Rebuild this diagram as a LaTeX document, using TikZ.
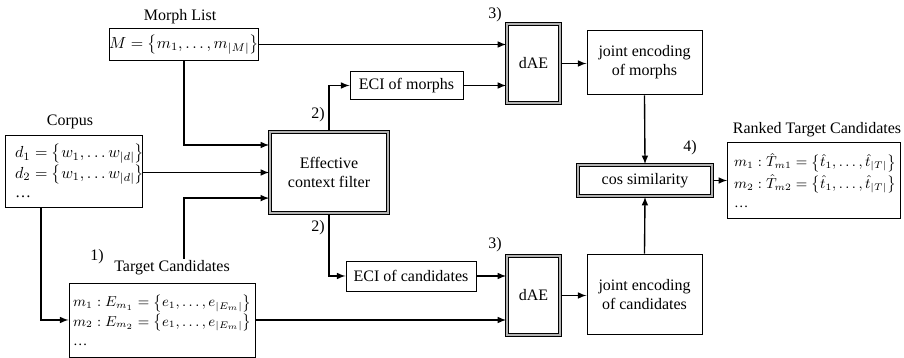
\documentclass[tikz,border=0pt]{standalone}
\usepackage{amsmath,amssymb}
\usepackage{fontspec}
\setmainfont{Liberation Serif}
\usetikzlibrary{arrows,positioning,shapes}

\begin{document}
\begin{tikzpicture}[x=0.625pt,y=-0.625pt,>=latex]
    \tikzstyle{box} = [draw, line width=0.6pt, inner sep=0pt]
    \tikzstyle{dbox} = [draw, line width=1pt, double=gray!60,
    double distance=1pt, inner sep=0pt]
    \tikzstyle{txt} = [inner sep=1pt]
    \tikzstyle{flow} = [->, line width=0.85pt]

    \useasboundingbox (0,0) rectangle (904,358);

    \draw
    (184,44.5) node [box, minimum width=91.25pt, minimum height=19.4pt] (morph)
        {$M=\left\{m_1,\ldots,m_{|M|}\right\}$}
    (73.5,171) node [box, minimum width=85.6pt, minimum height=45pt,
        text width=73pt, align=left, inner xsep=6pt] (corpus)
        {\mbox{$d_1=\left\{w_1,\ldots w_{|d|}\right\}$}\\ \mbox{$d_2=\left\{w_1,\ldots w_{|d|}\right\}$}\\ \ldots}
    (162,320) node [box, minimum width=116.25pt, minimum height=46.25pt,
        text width=111pt, align=left, inner xsep=2.5pt, font=\small] (target)
        {\mbox{$m_1:E_{m_1}=\left\{e_1,\ldots,e_{|E_m|}\right\}$}\\[1pt] \mbox{$m_2:E_{m_2}=\left\{e_1,\ldots,e_{|E_m|}\right\}$}\\[1pt] \ldots}
    (329,172.5) node [dbox, minimum width=73.75pt, minimum height=50.6pt,
        align=center] (ecf) {Effective\\ context filter}
    (406.5,85.5) node [box, minimum width=70.6pt, minimum height=18.1pt] (ecim) {ECI of morphs}
    (411,276) node [box, minimum width=81.25pt, minimum height=18.75pt] (ecic) {ECI of candidates}
    (533.5,63.5) node [dbox, minimum width=33.1pt, minimum height=49.4pt] (daem) {dAE}
    (533.5,295.5) node [dbox, minimum width=33.1pt, minimum height=49.4pt] (daec) {dAE}
    (644.5,62.5) node [box, minimum width=71.9pt, minimum height=40.6pt,
        align=center] (jem) {joint encoding\\ of morphs}
    (644.5,294.5) node [box, minimum width=71.9pt, minimum height=50.6pt,
        align=center] (jec) {joint encoding\\ of candidates}
    (645,180.5) node [dbox, minimum width=83.75pt, minimum height=19.4pt] (cos) {cos similarity}
    (814,180.5) node [box, minimum width=107.5pt, minimum height=48.1pt,
        text width=100pt, align=left, inner xsep=4pt, font=\small] (ranked)
        {\mbox{$m_1:\hat{T}_{m1}=\left\{\hat{t}_1,\ldots,\hat{t}_{|T|}\right\}$}\\[1pt] \mbox{$m_2:\hat{T}_{m2}=\left\{\hat{t}_1,\ldots,\hat{t}_{|T|}\right\}$}\\[1pt] \ldots}
    ;

    % captions and step numbers
    \node [txt] (morphlbl) at (180,17) {Morph List};
    \node [txt] (corpuslbl) at (70,122) {Corpus};
    \node [txt] (targetlbl) at (172,268) {Target Candidates};
    \node [txt] (rankedlbl) at (817,130) {Ranked Target Candidates};
    \node [txt] (s1) at (97,257) {1)};
    \node [txt] (s2a) at (318,115) {2)};
    \node [txt] (s2b) at (318,228) {2)};
    \node [txt] (s3a) at (495,15) {3)};
    \node [txt] (s3b) at (495,245) {3)};
    \node [txt] (s4) at (690,148) {4)};

    \draw [flow] (morph.east) -- (morph.east -| daem.west);
    \draw [flow] (morph.south) |- ([yshift=17.2pt]ecf.west);
    \draw [flow] (corpus.east |- ecf.west) -- (ecf.west);
    \draw [flow] (targetlbl.north -| morph.south) |- ([yshift=-16pt]ecf.west);
    \draw [flow] ([xshift=-20.3pt]corpus.south) |- (target.west);
    \draw [flow] (target.east) -- (target.east -| daec.west);
    \draw [flow] (ecf.north) |- (ecim.west);
    \draw [flow] (ecf.south) |- (ecic.west);
    \draw [flow] (ecim.east) -- (ecim.east -| daem.west);
    \draw [flow] (ecic.east) -- (ecic.east -| daec.west);
    \draw [flow] (daem.east) -- (daem.east -| jem.west);
    \draw [flow] (daec.east) -- (daec.east -| jec.west);
    \draw [flow] (jem.south) -- (cos.north);
    \draw [flow] (jec.north) -- (cos.south);
    \draw [flow] (cos.east) -- (cos.east -| ranked.west);

\end{tikzpicture}
\end{document}
